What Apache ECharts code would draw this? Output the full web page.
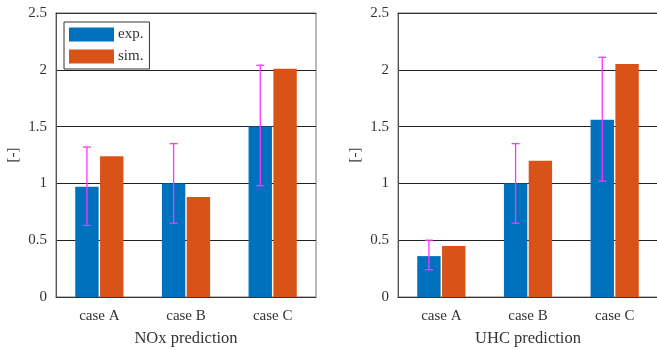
<!DOCTYPE html>
<html>
<head>
<meta charset="utf-8">
<script src="https://cdn.jsdelivr.net/npm/echarts@6/dist/echarts.min.js"></script>
<style>
html,body{margin:0;padding:0;background:#fff;overflow:hidden;width:657px;height:350px;}
#chart{width:657px;height:350px;}
</style>
</head>
<body>
<div id="chart"></div>
<script>
var categories = ['case A', 'case B', 'case C'];
var seriesNames = ['exp.', 'sim.'];
var noxExp = [0.97, 1.0, 1.5];
var noxSim = [1.24, 0.88, 2.01];
var noxErrLow = [0.63, 0.65, 0.98];
var noxErrHigh = [1.32, 1.35, 2.04];
var uhcExp = [0.36, 1.0, 1.56];
var uhcSim = [0.45, 1.2, 2.05];
var uhcErrLow = [0.24, 0.65, 1.02];
var uhcErrHigh = [0.5, 1.35, 2.11];
var panelTitles = ['NOx prediction', 'UHC prediction'];
var yLabel = '[-]';

var FONT = 'Liberation Serif';
var TXT = '#333';
var BAR_W = 0.27, BAR_GAP = 0.06;

function errData(lo, hi) {
  return categories.map(function (c, i) { return [i, lo[i], hi[i]]; });
}
function renderErr(params, api) {
  var i = api.value(0);
  var pLo = api.coord([i, api.value(1)]);
  var pHi = api.coord([i, api.value(2)]);
  var band = api.size([1, 0])[0];
  var off = -band * BAR_W * (1 + BAR_GAP) / 2;
  var x = pLo[0] + off;
  var cap = 4;
  var st = { stroke: '#ff33ff', lineWidth: 1.3 };
  return {
    type: 'group',
    children: [
      { type: 'line', shape: { x1: x, y1: pLo[1], x2: x, y2: pHi[1] }, style: st },
      { type: 'line', shape: { x1: x - cap, y1: pHi[1], x2: x + cap, y2: pHi[1] }, style: st },
      { type: 'line', shape: { x1: x - cap, y1: pLo[1], x2: x + cap, y2: pLo[1] }, style: st }
    ]
  };
}

var grids = [
  { left: 56, top: 13, width: 260, height: 284 },
  { left: 398, top: 13, width: 260, height: 284 }
];
var xAxes = [], yAxes = [];
[0, 1].forEach(function (g) {
  xAxes.push({
    type: 'category', gridIndex: g, data: categories, position: 'bottom',
    name: panelTitles[g], nameLocation: 'middle', nameGap: 33,
    nameTextStyle: { fontFamily: FONT, fontSize: 16.5, color: TXT },
    axisLine: { lineStyle: { color: '#333', width: 1 } },
    axisTick: { inside: true, alignWithLabel: true, length: 3, lineStyle: { color: '#333' } },
    axisLabel: { fontFamily: FONT, fontSize: 15, color: TXT, margin: 12 },
    z: 5
  });
  xAxes.push({
    type: 'category', gridIndex: g, data: categories, position: 'top',
    axisLine: { lineStyle: { color: '#333', width: 1 } },
    axisTick: { inside: true, alignWithLabel: true, length: 3, lineStyle: { color: '#333' } },
    axisLabel: { show: false }
  });
  yAxes.push({
    type: 'value', gridIndex: g, min: 0, max: 2.5, interval: 0.5,
    name: yLabel, nameLocation: 'middle', nameGap: 35, nameRotate: 90,
    nameTextStyle: { fontFamily: FONT, fontSize: 15, color: TXT },
    axisLine: { show: true, lineStyle: { color: '#555', width: 1 } },
    axisTick: { show: false },
    axisLabel: { fontFamily: FONT, fontSize: 15, color: TXT, margin: 9 },
    splitLine: { show: true, lineStyle: { color: '#222', width: 1 } }
  });
});

var option = {
  animation: false,
  backgroundColor: '#fff',
  grid: grids.map(function (g) {
    return Object.assign({ show: true, borderColor: '#777', borderWidth: 1, containLabel: false, outerBoundsMode: 'none' }, g);
  }),
  xAxis: xAxes,
  yAxis: yAxes,
  legend: {
    data: seriesNames,
    orient: 'vertical', left: 64, top: 22,
    padding: [5, 6, 5, 5], itemGap: 7,
    itemWidth: 45, itemHeight: 14, icon: 'rect',
    borderColor: '#333', borderWidth: 1, backgroundColor: '#fff',
    textStyle: { fontFamily: FONT, fontSize: 15, color: TXT, padding: [0, 0, 0, -1] }
  },
  series: [
    { name: 'exp.', type: 'bar', xAxisIndex: 0, yAxisIndex: 0, data: noxExp, barWidth: '27%', barGap: '6%', itemStyle: { color: '#0072BD' }, z: 3 },
    { name: 'sim.', type: 'bar', xAxisIndex: 0, yAxisIndex: 0, data: noxSim, barWidth: '27%', barGap: '6%', itemStyle: { color: '#D95319' }, z: 3 },
    { name: 'err1', type: 'custom', xAxisIndex: 0, yAxisIndex: 0, data: errData(noxErrLow, noxErrHigh), renderItem: renderErr, z: 4 },
    { name: 'exp.', type: 'bar', xAxisIndex: 2, yAxisIndex: 1, data: uhcExp, barWidth: '27%', barGap: '6%', itemStyle: { color: '#0072BD' }, z: 3 },
    { name: 'sim.', type: 'bar', xAxisIndex: 2, yAxisIndex: 1, data: uhcSim, barWidth: '27%', barGap: '6%', itemStyle: { color: '#D95319' }, z: 3 },
    { name: 'err2', type: 'custom', xAxisIndex: 2, yAxisIndex: 1, data: errData(uhcErrLow, uhcErrHigh), renderItem: renderErr, z: 4 }
  ]
};
var chart = echarts.init(document.getElementById('chart'), null, { renderer: 'canvas' });
chart.setOption(option);
</script>
</body>
</html>
